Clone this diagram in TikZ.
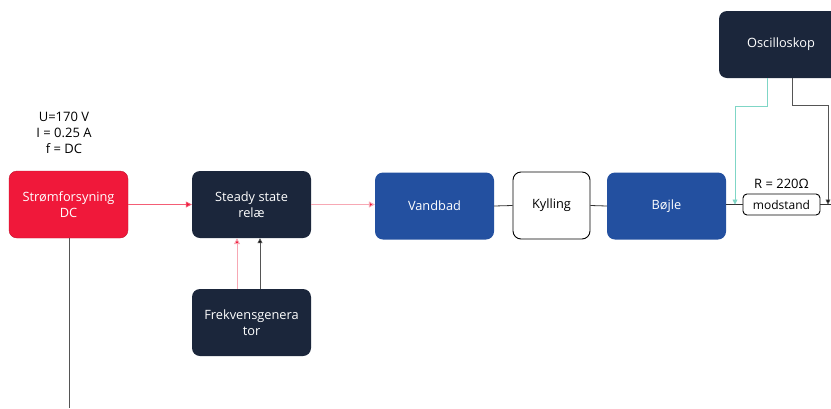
\documentclass[tikz,border=0pt]{standalone}
\usepackage{fontspec}
\setmainfont{Open Sans}
\usetikzlibrary{arrows.meta}
\definecolor{cred}{HTML}{F0183A}
\definecolor{cnavy}{HTML}{1B263B}
\definecolor{cblue}{HTML}{2350A0}
\definecolor{cpink}{HTML}{F7A8B4}
\definecolor{cteal}{HTML}{7FD6C6}
\definecolor{cgray}{HTML}{555555}
\tikzset{
  box/.style={rounded corners=8pt, minimum width=119pt, minimum height=67pt, inner sep=2pt, align=center, font=\fontsize{12.8}{16}\selectfont, text=white},
  redbox/.style={box, fill=cred, draw=cred!80!black, line width=0.4pt},
  navybox/.style={box, fill=cnavy},
  bluebox/.style={box, fill=cblue},
  whitebox/.style={box, fill=white, draw=black, line width=0.9pt, text=black, minimum width=77pt},
  resbox/.style={rounded corners=4pt, draw=black, line width=0.9pt, fill=white, minimum width=77pt, minimum height=21pt, inner sep=1pt, font=\fontsize{12}{14}\selectfont},
  wire/.style={draw=cgray, line width=0.8pt},
  redwire/.style={draw=cred!70, line width=0.8pt, -{Triangle[length=6pt,width=6pt,fill=cred]}},
  pinkwire/.style={draw=cpink, line width=1pt, -{Triangle[length=6pt,width=6pt,fill=cred]}},
  blkarrow/.style={draw=cgray, line width=0.8pt, -{Triangle[length=5pt,width=5pt,fill=black]}},
  tealarrow/.style={draw=cteal, line width=0.8pt, -{Triangle[length=5pt,width=5pt,fill=cteal]}},
  lbl/.style={align=center, font=\fontsize{13}{16}\selectfont, inner sep=0pt}
}
\begin{document}
\begin{tikzpicture}[x=1pt,y=-1pt]
\useasboundingbox (0,0) rectangle (831,408);
\begin{scope}
\clip (0,0) rectangle (831,408);
\node[redbox] (strom) at (68.5,204.5) {Strømforsyning\\DC};
\node[navybox] (rele) at (251.5,204.5) {Steady state\\relæ};
\node[navybox] (frek) at (251.5,322.5) {Frekvensgenera\\tor};
\node[bluebox] (vand) at (434.5,206) {Vandbad};
\node[whitebox] (kyl) at (551.5,205.5) {Kylling};
\node[bluebox] (bojle) at (666.5,206) {Bøjle};
\node[navybox, minimum width=124pt] (osc) at (781,44.5) {Oscilloskop};
\node[resbox] (mod) at (781.5,204.5) {modstand};
\node[lbl] (ulbl) at (64,133) {U=170 V\\I = 0.25 A\\f = DC};
\node[lbl, anchor=south] (rlbl) at (781.5,189) {R = 220Ω};
\coordinate (bot) at (69,408);
\coordinate (tA) at (767,106);
\coordinate (tB) at (735,106);
\coordinate (tC) at (735,204.5);
\coordinate (kA) at (792,105);
\coordinate (kB) at (828,105);
\coordinate (kC) at (828,204.5);
\coordinate (rend) at (831,204.5);

\draw[wire] (strom.south -| bot) -- (bot);
\draw[redwire] (strom.east) -- (rele.west);
\draw[pinkwire] (rele.east) -- (rele.east -| vand.west);
\draw[pinkwire] (frek.north -| 237,0) -- (rele.south -| 237,0);
\draw[blkarrow] (frek.north -| 260,0) -- (rele.south -| 260,0);
\draw[wire, draw=black!80] (vand.east) -- (kyl.west);
\draw[wire, draw=black!80] (kyl.east) -- (bojle.west);
\draw[wire, draw=black!80] (bojle.east |- mod.west) -- (mod.west);
\draw[wire, draw=black!80] (mod.east) -- (rend);
\draw[tealarrow] (osc.south -| tA) -- (tA) -- (tB) -- (tC);
\draw[blkarrow] (osc.south -| kA) -- (kA) -- (kB) -- (kC);
\end{scope}
\end{tikzpicture}
\end{document}
